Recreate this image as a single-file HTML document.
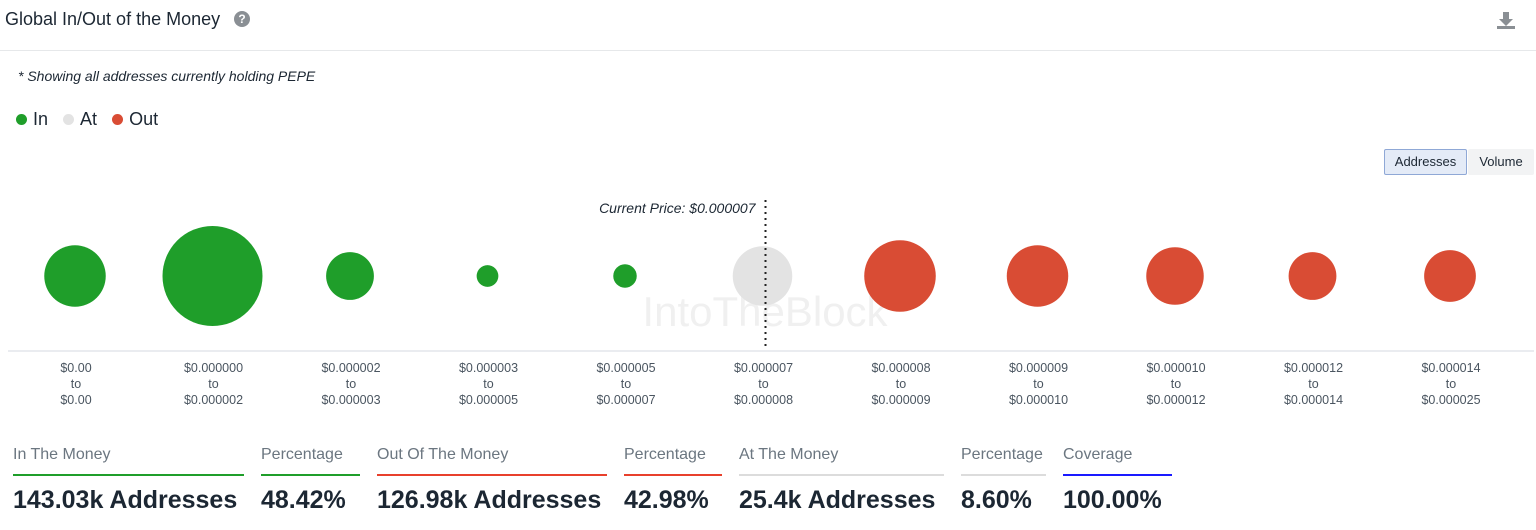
<!DOCTYPE html>
<html><head><meta charset="utf-8"><style>
body{margin:0;width:1536px;height:530px;background:#fff;font-family:"Liberation Sans",sans-serif;position:relative;overflow:hidden;color:#1c2733}
.abs{position:absolute}
.stat{position:absolute;top:446px}
.stat .h{font-size:16px;color:#6b7680;height:22px}
.stat .bar{height:2px;margin-top:6px}
.stat .v{font-size:25px;font-weight:bold;color:#1c2733;margin-top:10px;white-space:nowrap}
.btn{position:absolute;top:149px;height:24px;font-size:13px;line-height:24px;text-align:center;border-radius:2px}
</style></head><body>
<div class="abs" style="left:5px;top:9px;font-size:18px;color:#1c2733">Global In/Out of the Money</div>
<div class="abs" style="left:234px;top:11px;width:16px;height:16px;border-radius:8px;background:#8a8f94;color:#fff;font-size:12px;font-weight:bold;text-align:center;line-height:16px">?</div>
<div class="abs" style="left:1496px;top:10px;width:20px;height:20px">
<svg width="20" height="20"><path d="M7 2h6v7h4l-7 7-7-7h4z" fill="#8a8f94"/><rect x="1" y="16" width="18" height="3" fill="#8a8f94"/></svg></div>
<div class="abs" style="left:0;top:50px;width:1536px;height:1px;background:#e6e8ea"></div>
<div class="abs" style="left:18px;top:68px;font-size:14px;font-style:italic;color:#1c2733">* Showing all addresses currently holding PEPE</div>
<div class="abs" style="left:16px;top:109px;font-size:18px;color:#1c2733">
<span><span style="display:inline-block;width:11px;height:11px;border-radius:6px;background:#1f9e2a;margin-right:6px"></span>In</span>
<span style="margin-left:10px"><span style="display:inline-block;width:11px;height:11px;border-radius:6px;background:#e3e3e3;margin-right:6px"></span>At</span>
<span style="margin-left:10px"><span style="display:inline-block;width:11px;height:11px;border-radius:6px;background:#d94c34;margin-right:6px"></span>Out</span>
</div>
<div class="btn" style="left:1384px;width:81px;background:#e4ebf7;border:1px solid #8fa8d6;color:#1c2733">Addresses</div>
<div class="btn" style="left:1468px;width:64px;background:#f2f3f4;border:1px solid #f2f3f4;color:#1c2733">Volume</div>
<svg class="abs" style="left:0;top:0" width="1536" height="430" id="chart">
<text x="765" y="326" font-size="42" fill="#f0f0f0" text-anchor="middle">IntoTheBlock</text>
</svg>
<div class="stat" style="left:13px;width:231px"><div class="h">In The Money</div><div class="bar" style="background:#1f9e2a"></div><div class="v">143.03k Addresses</div></div>
<div class="stat" style="left:261px;width:99px"><div class="h">Percentage</div><div class="bar" style="background:#1f9e2a"></div><div class="v">48.42%</div></div>
<div class="stat" style="left:377px;width:230px"><div class="h">Out Of The Money</div><div class="bar" style="background:#e8402c"></div><div class="v">126.98k Addresses</div></div>
<div class="stat" style="left:624px;width:98px"><div class="h">Percentage</div><div class="bar" style="background:#e8402c"></div><div class="v">42.98%</div></div>
<div class="stat" style="left:739px;width:205px"><div class="h">At The Money</div><div class="bar" style="background:#dcdcdc"></div><div class="v">25.4k Addresses</div></div>
<div class="stat" style="left:961px;width:85px"><div class="h">Percentage</div><div class="bar" style="background:#dcdcdc"></div><div class="v">8.60%</div></div>
<div class="stat" style="left:1063px;width:109px"><div class="h">Coverage</div><div class="bar" style="background:#1a1aff"></div><div class="v">100.00%</div></div>
<script>
const fromLabels=["$0.00","$0.000000","$0.000002","$0.000003","$0.000005","$0.000007","$0.000008","$0.000009","$0.000010","$0.000012","$0.000014"];
const toLabels=["$0.00","$0.000002","$0.000003","$0.000005","$0.000007","$0.000008","$0.000009","$0.000010","$0.000012","$0.000014","$0.000025"];
const addresses=[9.6,25.4,5.8,1.2,1.4,9.0,13.0,9.6,8.4,5.8,6.8];
const status=["in","in","in","in","in","at","out","out","out","out","out"];
const currentPriceIndex=5;
const colors={in:"#1f9e2a",at:"#e3e3e3",out:"#d94c34"};
const svg=document.getElementById('chart');const NS="http://www.w3.org/2000/svg";
const x0=75,step=137.5,cy=276,maxR=50,maxV=Math.max(...addresses);
const xs=i=>x0+i*step;const rs=v=>maxR*Math.sqrt(v/maxV);
function mk(t,a){const e=document.createElementNS(NS,t);for(const k in a)e.setAttribute(k,a[k]);svg.appendChild(e);return e;}
const ax=mk('line',{x1:8,y1:351,x2:1534,y2:351,stroke:'#d6dae0','stroke-width':1});


addresses.forEach((v,i)=>{
 const c=mk('circle',{cx:xs(i),cy:cy,r:rs(v),fill:colors[status[i]]});
 
 
 [fromLabels[i],'to',toLabels[i]].forEach((s,j)=>{
  const t=mk('text',{x:xs(i)+1,y:372+j*16,'font-size':12.5,fill:'#4a5560','text-anchor':'middle'});t.textContent=s;
  
  
 });
});
const px=xs(currentPriceIndex)+3;
const dl=mk('line',{x1:px,y1:200,x2:px,y2:348,stroke:'#222','stroke-width':2,'stroke-dasharray':'2,4'});


const pt=mk('text',{x:px-10,y:213,'font-size':14,'font-style':'italic',fill:'#1c2733','text-anchor':'end'});
pt.textContent='Current Price: $0.000007';


</script>
</body></html>
